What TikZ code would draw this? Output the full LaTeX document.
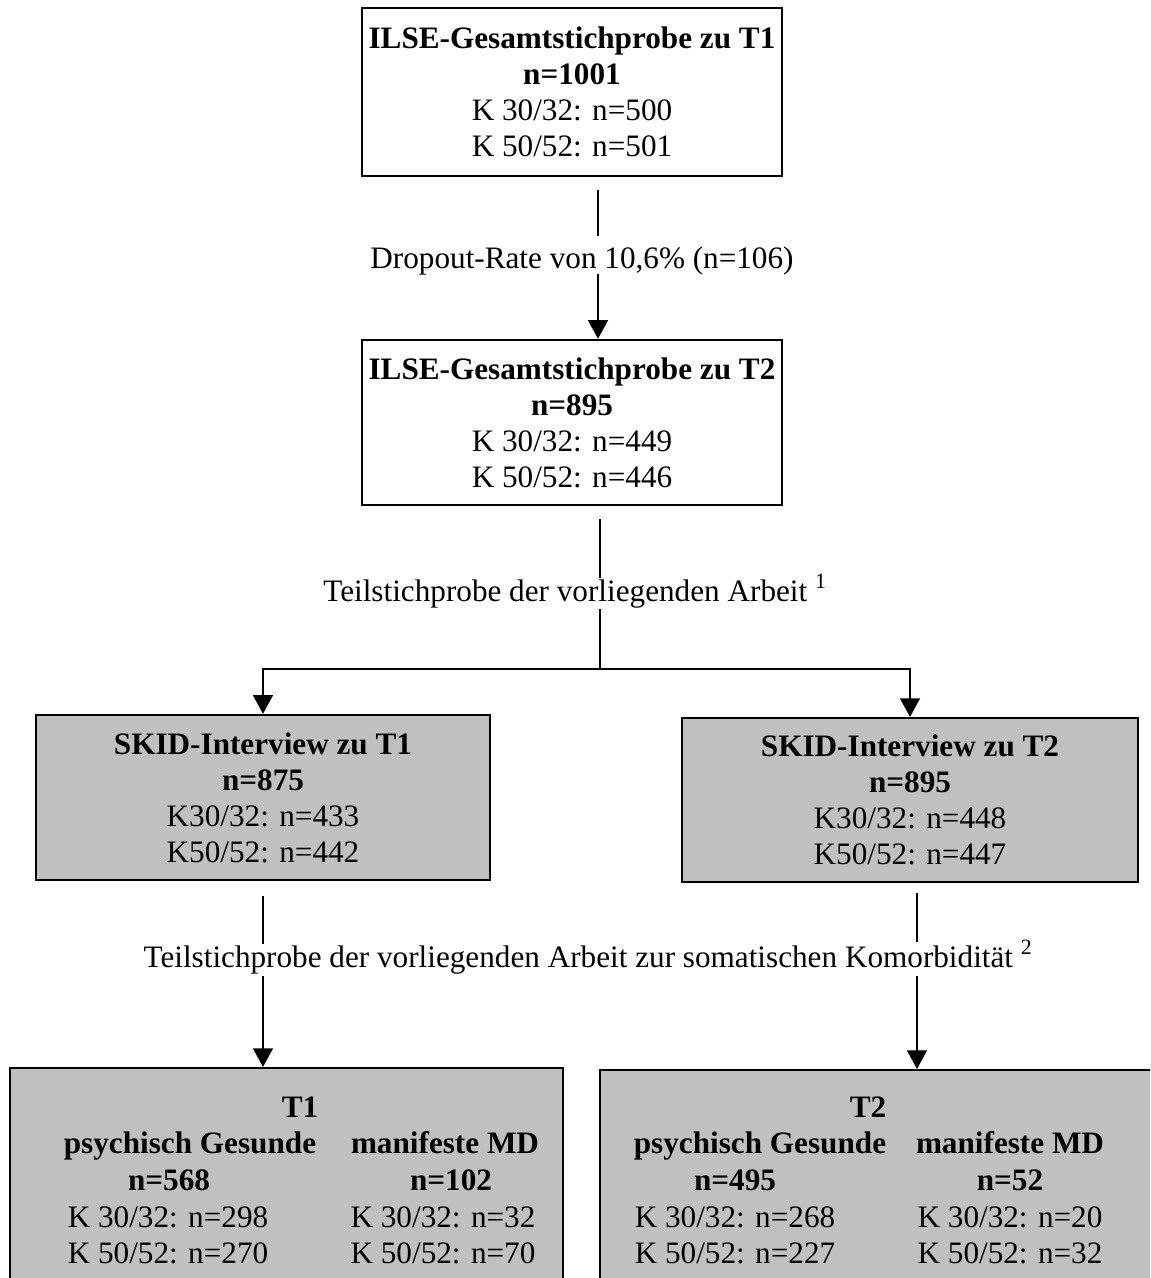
\documentclass[tikz,border=0pt]{standalone}
\usepackage{fontspec}
\setmainfont{Liberation Serif}
\usetikzlibrary{arrows.meta}

\definecolor{boxgray}{RGB}{192,192,192}

\tikzset{every picture/.style={line width=0.75pt}}
\tikzset{
  txt/.style={font=\fontsize{23.4}{27}\selectfont, inner sep=0.75pt},
  lbl/.style={txt, anchor=base},
  whitebox/.style={txt, draw, line width=1.6pt, align=center, inner sep=0pt},
  graybox/.style={whitebox, fill=boxgray},
  conn/.style={line width=1.1pt},
  arr/.style={conn, -{Triangle[width=15pt,length=14pt]}}
}

\begin{document}
\begin{tikzpicture}[x=0.75pt,y=0.75pt,yscale=-1,xscale=1]
        \useasboundingbox (0,0) rectangle (1150,1278);
        \clip (0,0) rectangle (1150,1278);

        %Shape: Rectangle [ILSE T1]
        \node (ilseA) [whitebox, minimum width=315pt, minimum height=126pt] at (572,92) {\textbf{ILSE-Gesamtstichprobe zu T1}\\ \textbf{n=1001}\\ K 30/32: n=500\\ K 50/52: n=501};
        %Shape: Rectangle [ILSE T2]
        \node (ilseB) [whitebox, minimum width=315pt, minimum height=124pt] at (572,422.5) {\textbf{ILSE-Gesamtstichprobe zu T2}\\ \textbf{n=895}\\ K 30/32: n=449\\ K 50/52: n=446};
        %Shape: Rectangle [SKID T1]
        \node (skidA) [graybox, minimum width=340.5pt, minimum height=124pt] at (263,797.5) {\textbf{SKID-Interview zu T1}\\ \textbf{n=875}\\ K30/32: n=433\\ K50/52: n=442};
        %Shape: Rectangle [SKID T2]
        \node (skidB) [graybox, minimum width=342pt, minimum height=123pt] at (910,800) {\textbf{SKID-Interview zu T2}\\ \textbf{n=895}\\ K30/32: n=448\\ K50/52: n=447};
        %Shape: Rectangle [Gruppen T1]
        \node (grpA) [graybox, minimum width=414.75pt, minimum height=166.5pt] at (286.5,1179) {};
        %Shape: Rectangle [Gruppen T2]
        \node (grpB) [graybox, minimum width=420pt, minimum height=166.5pt] at (880,1181) {};

        % Text Node
        \node (drop) [lbl] at (582,268) {Dropout-Rate von 10,6\% (n=106)};
        % Text Node
        \node (teilA) [lbl] at (575,601) {Teilstichprobe der vorliegenden Arbeit \textsuperscript{1}};
        % Text Node
        \node (teilB) [lbl] at (588,967) {Teilstichprobe der vorliegenden Arbeit zur somatischen Komorbidität \textsuperscript{2}};

        % Text Node
        \node (tA) [lbl] at (300,1117) {\textbf{T1}};
        \node (gesA) [lbl] at (190,1153) {\textbf{psychisch Gesunde}};
        \node (mdA) [lbl] at (445,1153) {\textbf{manifeste MD}};
        \node (nGesA) [lbl] at (169,1190) {\textbf{n=568}};
        \node (nMdA) [lbl] at (451,1190) {\textbf{n=102}};
        \node (kGesA1) [lbl] at (168,1227) {K 30/32: n=298};
        \node (kMdA1) [lbl] at (443,1227) {K 30/32: n=32};
        \node (kGesA2) [lbl] at (168,1263) {K 50/52: n=270};
        \node (kMdA2) [lbl] at (443,1263) {K 50/52: n=70};
        % Text Node
        \node (tB) [lbl] at (868,1117) {\textbf{T2}};
        \node (gesB) [lbl] at (760,1153) {\textbf{psychisch Gesunde}};
        \node (mdB) [lbl] at (1010,1153) {\textbf{manifeste MD}};
        \node (nGesB) [lbl] at (735,1190) {\textbf{n=495}};
        \node (nMdB) [lbl] at (1010,1190) {\textbf{n=52}};
        \node (kGesB1) [lbl] at (735,1227) {K 30/32: n=268};
        \node (kMdB1) [lbl] at (1010,1227) {K 30/32: n=20};
        \node (kGesB2) [lbl] at (735,1263) {K 50/52: n=227};
        \node (kMdB2) [lbl] at (1010,1263) {K 50/52: n=32};

        %Straight Lines [dropout]
        \coordinate (d1) at (598,190);
        \coordinate (d2) at (598,236);
        \coordinate (d3) at (598,274);
        \draw [conn] (d1) -- (d2);
        \draw [arr] (d3) -- (d3 |- ilseB.north);

        %Straight Lines [Teilstichprobe 1]
        \coordinate (e1) at (600,519);
        \coordinate (e2) at (600,578);
        \coordinate (e3) at (600,609);
        \coordinate (e4) at (600,669);
        \draw [conn] (e1) -- (e2);
        \draw [conn] (e3) -- (e4);
        \draw [arr] (e4) -| (skidA.north);
        \draw [arr] (e4) -| (skidB.north);

        %Straight Lines [Teilstichprobe 2]
        \coordinate (f1) at (263,896);
        \coordinate (f2) at (263,944);
        \coordinate (f3) at (263,976);
        \coordinate (g1) at (917,893);
        \coordinate (g2) at (917,942);
        \coordinate (g3) at (917,976);
        \draw [conn] (f1) -- (f2);
        \draw [arr] (f3) -- (f3 |- grpA.north);
        \draw [conn] (g1) -- (g2);
        \draw [arr] (g3) -- (g3 |- grpB.north);
\end{tikzpicture}
\end{document}
